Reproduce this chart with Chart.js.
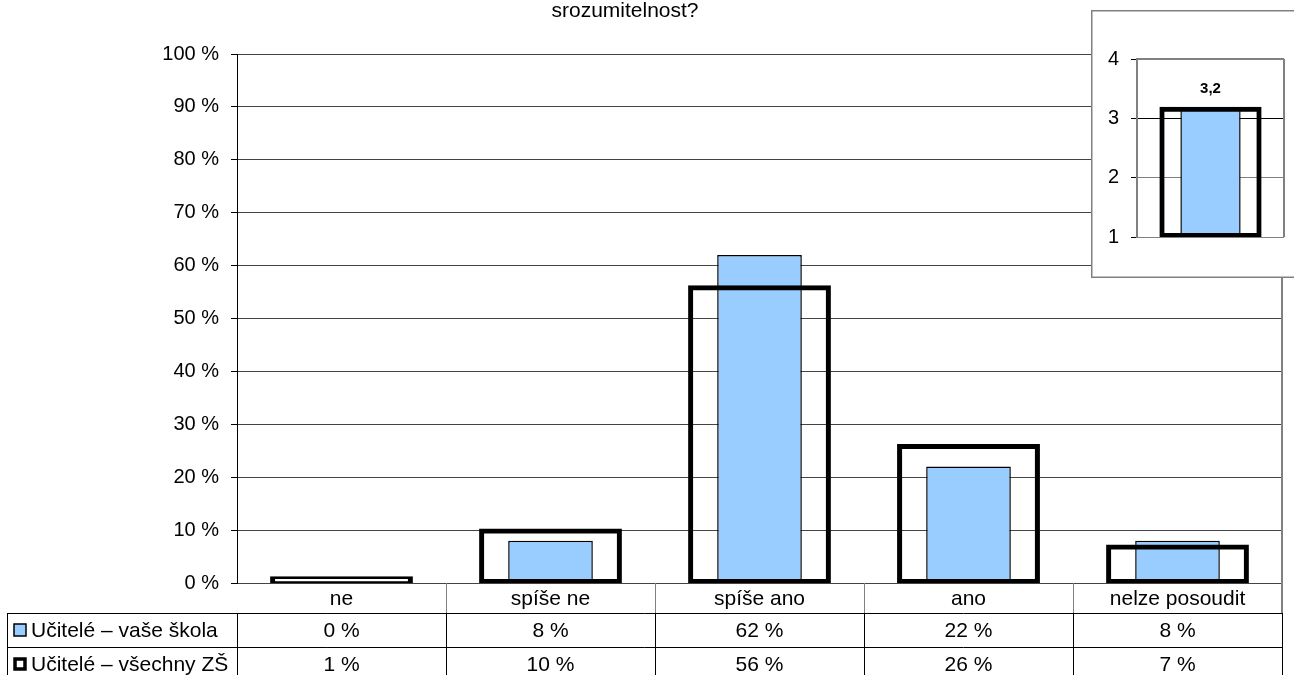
<!DOCTYPE html>
<html>
<head>
<meta charset="utf-8">
<script src="https://cdn.jsdelivr.net/npm/chart.js@4.4.0/dist/chart.umd.min.js"></script>
<style>
html, body { margin: 0; padding: 0; background: #fff; overflow: hidden; }
#wrap { position: relative; width: 1294px; height: 675px; }
#main { position: absolute; left: 0; top: 0; }
#inset { position: absolute; left: 1091px; top: 10px; }
</style>
</head>
<body>
<div id="wrap">
    <canvas id="main" width="1294" height="675"></canvas>
    <canvas id="inset" width="215" height="268"></canvas>
</div>
<script>
const titleText = 'srozumitelnost?';
const categories = ['ne', 'spíše ne', 'spíše ano', 'ano', 'nelze posoudit'];
const seriesNames = ['Učitelé – vaše škola', 'Učitelé – všechny ZŠ'];
const schoolValues = [0, 8, 62, 22, 8];
const allSchoolsValues = [1, 10, 56, 26, 7];
const averageLabels = ['průměr'];
const schoolAverage = [3.16];
const allSchoolsAverage = [3.17];

const FONT = 'Liberation Sans, Arial, sans-serif';
const BLUE = '#99ccff';
const GRAY = '#808080';

function line(ctx, x1, y1, x2, y2) {
    ctx.beginPath();
    ctx.moveTo(x1, y1);
    ctx.lineTo(x2, y2);
    ctx.stroke();
}

// table with values under the main chart + title
const tablePlugin = {
    id: 'dataTable',
    afterDraw(chart) {
        const ctx = chart.ctx;
        const area = chart.chartArea;
        const xScale = chart.scales.x;
        const n = categories.length;
        const cw = (area.right - area.left) / n;
        const rows = [area.bottom, area.bottom + 30, area.bottom + 64, area.bottom + 98];
        const tableLeft = 7.5;

        ctx.save();
        // plot right border
        ctx.strokeStyle = GRAY;
        ctx.lineWidth = 2;
        line(ctx, area.right, area.top, area.right, rows[1]);

        // category row separators
        ctx.lineWidth = 1;
        for (let i = 1; i < n; i++) {
            const x = Math.round(area.left + i * cw) + 0.5;
            line(ctx, x, rows[0], x, rows[1]);
        }

        // value rows grid
        ctx.strokeStyle = '#000';
        line(ctx, tableLeft, rows[1] + 0.5, area.right, rows[1] + 0.5);
        line(ctx, tableLeft, rows[2] + 0.5, area.right, rows[2] + 0.5);
        line(ctx, tableLeft, rows[1], tableLeft, rows[3]);
        for (let i = 0; i <= n; i++) {
            const x = Math.round(area.left + i * cw) + 0.5;
            line(ctx, x, rows[1], x, rows[3]);
        }

        ctx.fillStyle = '#000';
        ctx.font = '21px ' + FONT;
        ctx.textAlign = 'center';
        ctx.textBaseline = 'middle';
        categories.forEach((c, i) => {
            const x = xScale.getPixelForValue(i);
            ctx.fillText(c, x, (rows[0] + rows[1]) / 2 + 1);
            ctx.fillText(schoolValues[i] + ' %', x, (rows[1] + rows[2]) / 2 + 1);
            ctx.fillText(allSchoolsValues[i] + ' %', x, (rows[2] + rows[3]) / 2 + 1);
        });

        // legend keys + series names
        ctx.textAlign = 'left';
        const keyX = 14;
        [1, 2].forEach(r => {
            const cy = (rows[r] + rows[r + 1]) / 2;
            if (r === 1) {
                ctx.fillStyle = BLUE;
                ctx.fillRect(keyX, cy - 6, 12, 12);
                ctx.strokeStyle = '#000';
                ctx.lineWidth = 1.5;
                ctx.strokeRect(keyX, cy - 6, 12, 12);
            } else {
                ctx.fillStyle = '#fff';
                ctx.fillRect(keyX, cy - 6, 12, 12);
                ctx.strokeStyle = '#000';
                ctx.lineWidth = 3.5;
                ctx.strokeRect(keyX + 1, cy - 5, 10, 10);
            }
            ctx.fillStyle = '#000';
            ctx.fillText(seriesNames[r - 1], 31, cy + 1);
        });

        // title (first line is above the visible area)
        ctx.textAlign = 'center';
        ctx.font = '21px ' + FONT;
        ctx.textBaseline = 'alphabetic';
        ctx.fillText(titleText, 625, 17);
        ctx.restore();
    }
};

new Chart(document.getElementById('main'), {
    type: 'bar',
    data: {
        labels: categories,
        datasets: [
            {
                label: seriesNames[1],
                data: allSchoolsValues,
                backgroundColor: 'rgba(0, 0, 0, 0)',
                borderColor: '#000',
                borderWidth: 2,
                inflateAmount: 1.5,
                borderSkipped: false,
                barPercentage: 0.669,
                categoryPercentage: 1,
                grouped: false,
                order: 0
            },
            {
                label: seriesNames[0],
                data: schoolValues,
                backgroundColor: BLUE,
                borderColor: '#000',
                borderWidth: 1.5,
                borderSkipped: false,
                barPercentage: 0.405,
                categoryPercentage: 1,
                grouped: false,
                order: 1
            }
        ]
    },
    options: {
        responsive: false,
        animation: false,
        events: [],
        layout: {
            padding: { top: 54, right: 12, bottom: 92, left: 0 }
        },
        scales: {
            x: {
                display: false
            },
            y: {
                min: 0,
                max: 100,
                afterFit: function (scale) {
                    scale.width = 237;
                },
                ticks: {
                    stepSize: 10,
                    padding: 12,
                    color: '#000',
                    font: { family: FONT, size: 20 },
                    callback: function (value) {
                        return value + ' %';
                    }
                },
                grid: {
                    color: '#444',
                    tickColor: '#000',
                    tickLength: 6,
                    lineWidth: 1
                },
                border: { color: '#000', width: 1 }
            }
        },
        plugins: {
            legend: { display: false },
            tooltip: { enabled: false }
        }
    },
    plugins: [tablePlugin]
});

// small inset with average score
const insetPlugin = {
    id: 'insetFrame',
    beforeDraw(chart) {
        const ctx = chart.ctx;
        ctx.save();
        ctx.fillStyle = '#fff';
        ctx.fillRect(0, 0, chart.width, chart.height);
        ctx.strokeStyle = GRAY;
        ctx.lineWidth = 1.5;
        ctx.strokeRect(0.75, 0.75, chart.width + 10, chart.height - 1.5);
        ctx.restore();
    },
    afterDatasetsDraw(chart) {
        const ctx = chart.ctx;
        const area = chart.chartArea;
        ctx.save();
        ctx.strokeStyle = GRAY;
        ctx.lineWidth = 2;
        line(ctx, area.left, area.top, area.right, area.top);
        line(ctx, area.right, area.top, area.right, area.bottom);
        const bar = chart.getDatasetMeta(1).data[0];
        ctx.fillStyle = '#000';
        ctx.font = 'bold 15px ' + FONT;
        ctx.textAlign = 'center';
        ctx.textBaseline = 'middle';
        ctx.fillText(schoolAverage[0].toFixed(1).replace('.', ','), bar.x, 79);
        ctx.restore();
    }
};

new Chart(document.getElementById('inset'), {
    type: 'bar',
    data: {
        labels: averageLabels,
        datasets: [
            {
                label: seriesNames[1],
                data: allSchoolsAverage,
                base: 1,
                backgroundColor: 'rgba(0, 0, 0, 0)',
                borderColor: '#000',
                borderWidth: 2,
                inflateAmount: 1.5,
                borderSkipped: false,
                barPercentage: 0.675,
                categoryPercentage: 1,
                grouped: false,
                order: 0
            },
            {
                label: seriesNames[0],
                data: schoolAverage,
                base: 1,
                backgroundColor: BLUE,
                borderColor: '#000',
                borderWidth: 1.5,
                borderSkipped: false,
                barPercentage: 0.41,
                categoryPercentage: 1,
                grouped: false,
                order: 1
            }
        ]
    },
    options: {
        responsive: false,
        animation: false,
        events: [],
        layout: {
            padding: { top: 49, right: 22, bottom: 41, left: 0 }
        },
        scales: {
            x: { display: false },
            y: {
                min: 1,
                max: 4,
                afterFit: function (scale) {
                    scale.width = 46;
                },
                ticks: {
                    stepSize: 1,
                    padding: 12,
                    color: '#000',
                    font: { family: FONT, size: 20 }
                },
                grid: {
                    color: function (c) {
                        return c.tick && c.tick.value === 3 ? '#000' : GRAY;
                    },
                    tickColor: '#000',
                    tickLength: 6
                },
                border: { color: GRAY, width: 2 }
            }
        },
        plugins: {
            legend: { display: false },
            tooltip: { enabled: false }
        }
    },
    plugins: [insetPlugin]
});
</script>
</body>
</html>
